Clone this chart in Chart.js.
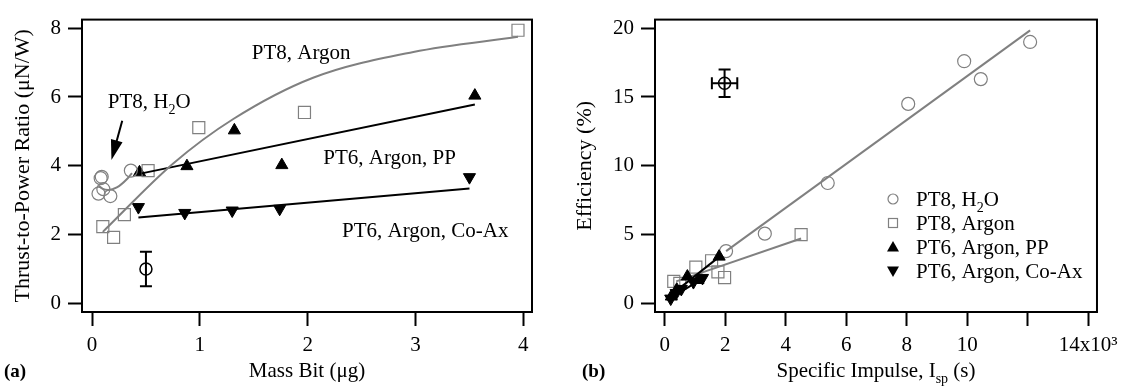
<!DOCTYPE html>
<html>
<head>
<meta charset="utf-8">
<script src="https://cdn.jsdelivr.net/npm/chart.js@4/dist/chart.umd.min.js"></script>
<style>
html, body { margin: 0; padding: 0; background: #fff; }
#wrap { position: relative; width: 1125px; height: 387px; }
canvas { position: absolute; top: 0; }
</style>
</head>
<body>
<div id="wrap">
  <canvas id="chart-a" width="562" height="387" style="left:0;width:562px;height:387px"></canvas>
  <canvas id="chart-b" width="563" height="387" style="left:562px;width:563px;height:387px"></canvas>
</div>
<script>
// ---- panel (a): mass bit (ug) vs thrust-to-power ratio (uN/W)
var h2oMass = [0.06, 0.08, 0.09, 0.105, 0.17, 0.36];
var h2oTP = [3.19, 3.64, 3.68, 3.32, 3.12, 3.86];
var h2oFitMass = [0.06, 0.1, 0.15, 0.23, 0.32, 0.37];
var h2oFitTP = [3.43, 3.33, 3.3, 3.37, 3.6, 3.79];

var argonMass = [0.10, 0.20, 0.30, 0.52, 0.99, 1.97, 3.95];
var argonTP = [2.23, 1.92, 2.58, 3.86, 5.11, 5.55, 7.94];
var argonFitMass = [0.10, 0.75, 1.31, 2.05, 2.98, 3.95];
var argonFitTP = [2.08, 4.06, 5.36, 6.56, 7.31, 7.75];

var ppMass = [0.44, 0.88, 1.32, 1.76, 3.55];
var ppTP = [3.81, 3.99, 5.03, 4.02, 6.04];
var ppFitMass = [0.46, 3.55];
var ppFitTP = [3.78, 5.78];

var coaxMass = [0.43, 0.86, 1.30, 1.74, 3.50];
var coaxTP = [2.80, 2.63, 2.70, 2.75, 3.67];
var coaxFitMass = [0.43, 3.50];
var coaxFitTP = [2.50, 3.34];

var errMassA = [0.5];
var errTPA = [1.0];
var errTPBarA = [0.5];

var massTicks = [0, 1, 2, 3, 4];
var tpTicks = [0, 2, 4, 6, 8];

// ---- panel (b): specific impulse (x10^3 s) vs efficiency (%)
var h2oIsp = [2.03, 3.31, 5.39, 8.05, 9.9, 10.45, 12.08];
var h2oEff = [3.8, 5.07, 8.75, 14.5, 17.6, 16.3, 19.0];
var h2oFitIsp = [2.03, 12.08];
var h2oFitEff = [3.8, 19.84];

var argonIsp = [0.3, 0.5, 1.03, 1.55, 1.76, 1.98, 4.51];
var argonEff = [1.6, 1.45, 2.64, 3.1, 2.29, 1.88, 5.0];
var argonFitIsp = [0.38, 4.51];
var argonFitEff = [1.6, 4.72];

var ppIsp = [0.22, 0.4, 0.75, 1.1, 1.8];
var ppEff = [0.5, 1.0, 1.95, 1.7, 3.4];
var ppFitIsp = [0.11, 1.81];
var ppFitEff = [0.44, 3.4];

var coaxIsp = [0.2, 0.38, 0.55, 0.95, 1.25];
var coaxEff = [0.35, 0.75, 1.05, 1.55, 1.85];
var coaxFitIsp = [0.2, 1.25];
var coaxFitEff = [0.4, 1.8];

var errIspB = [1.98];
var errEffB = [16.0];
var errIspBarB = [0.42];
var errEffBarB = [1.0];

var ispTicks = [0, 2, 4, 6, 8, 10, 12, 14];
var ispTickLabels = ['0', '2', '4', '6', '8', '10', '', '14x10\u00b3'];
var effTicks = [0, 5, 10, 15, 20];

var GRAY = '#808080';
var serif = "'Liberation Serif', serif";
Chart.defaults.font.family = serif;
Chart.defaults.color = '#000';

function pts(xs, ys) {
    return xs.map(function (x, i) { return { x: x, y: ys[i] }; });
}

function fit(xs, ys, color, curved) {
    return {
        data: pts(xs, ys), showLine: true, borderColor: color, borderWidth: 2,
        pointRadius: 0, fill: false,
        tension: curved ? 0.4 : 0,
        cubicInterpolationMode: curved ? 'monotone' : 'default'
    };
}

var markers = {
    h2o: { pointStyle: 'circle', pointRadius: 6.5, borderColor: GRAY, backgroundColor: 'rgba(0,0,0,0)', pointBorderWidth: 1.2 },
    argon: { pointStyle: 'rect', pointRadius: 8.5, borderColor: GRAY, backgroundColor: 'rgba(255,255,255,0)', pointBorderWidth: 1.2 },
    pp: { pointStyle: 'triangle', pointRadius: 7, borderColor: '#000', backgroundColor: '#000', pointBorderWidth: 1 },
    coax: { pointStyle: 'triangle', pointRotation: 180, pointRadius: 7, borderColor: '#000', backgroundColor: '#000', pointBorderWidth: 1 }
};

function scatterSet(xs, ys, m) {
    return Object.assign({ data: pts(xs, ys), showLine: false }, m);
}

// text with subscripts: parts = [[text, shift]], shift 1 = sub
function rich(ctx, parts, x, y, align, size) {
    var total = 0;
    parts.forEach(function (p) {
        ctx.font = Math.round(p[1] ? size * 0.68 : size) + 'px ' + serif;
        total += ctx.measureText(p[0]).width;
    });
    var cx = align === 'center' ? x - total / 2 : (align === 'right' ? x - total : x);
    ctx.textAlign = 'left';
    ctx.textBaseline = 'alphabetic';
    parts.forEach(function (p) {
        ctx.font = Math.round(p[1] ? size * 0.68 : size) + 'px ' + serif;
        ctx.fillText(p[0], cx, y + p[1] * size * 0.28);
        cx += ctx.measureText(p[0]).width;
    });
}

function scaleOpts(ticks, min, max, fixed, labels) {
    return {
        type: 'linear', min: min, max: max,
        border: { display: false },
        grid: { drawOnChartArea: false, drawTicks: true, tickLength: 14, tickWidth: 2, tickColor: '#000' },
        ticks: {
            padding: 7, color: '#000', font: { size: 21, family: serif }, maxRotation: 0, autoSkip: false,
            callback: function (v, i) { return labels ? labels[i] : String(v); }
        },
        afterBuildTicks: function (s) { s.ticks = ticks.map(function (v) { return { value: v }; }); },
        afterFit: function (s) {
            if (s.isHorizontal()) s.height = fixed; else s.width = fixed;
        }
    };
}

function makeDeco(p) {
    return {
        id: 'deco',
        afterDatasetsDraw: function (chart) {
            var ctx = chart.ctx, a = chart.chartArea, sx = chart.scales.x, sy = chart.scales.y;
            ctx.save();
            ctx.fillStyle = '#000';
            ctx.strokeStyle = '#000';
            ctx.lineWidth = 2;
            ctx.strokeRect(a.left, a.top, a.right - a.left, a.bottom - a.top);

            // error bars
            p.err.x.forEach(function (xv, i) {
                var px = sx.getPixelForValue(xv), py = sy.getPixelForValue(p.err.y[i]);
                ctx.lineWidth = 2;
                ctx.beginPath();
                var y1 = sy.getPixelForValue(p.err.y[i] + p.err.dy[i]);
                var y2 = sy.getPixelForValue(p.err.y[i] - p.err.dy[i]);
                ctx.moveTo(px, y1); ctx.lineTo(px, y2);
                ctx.moveTo(px - 6, y1); ctx.lineTo(px + 6, y1);
                ctx.moveTo(px - 6, y2); ctx.lineTo(px + 6, y2);
                if (p.err.dx) {
                    var x1 = sx.getPixelForValue(xv - p.err.dx[i]);
                    var x2 = sx.getPixelForValue(xv + p.err.dx[i]);
                    ctx.moveTo(x1, py); ctx.lineTo(x2, py);
                    ctx.moveTo(x1, py - 6); ctx.lineTo(x1, py + 6);
                    ctx.moveTo(x2, py - 6); ctx.lineTo(x2, py + 6);
                }
                ctx.stroke();
                ctx.lineWidth = 1.5;
                ctx.beginPath();
                ctx.arc(px, py, 6, 0, Math.PI * 2);
                ctx.stroke();
            });

            // annotations
            (p.notes || []).forEach(function (n) {
                rich(ctx, n.parts, sx.getPixelForValue(n.x), sy.getPixelForValue(n.y), 'center', 21);
            });

            // arrow
            if (p.arrow) {
                var tx = sx.getPixelForValue(p.arrow[0]), ty = sy.getPixelForValue(p.arrow[1]);
                var hx = sx.getPixelForValue(p.arrow[2]), hy = sy.getPixelForValue(p.arrow[3]);
                var ang = Math.atan2(hy - ty, hx - tx);
                var c = Math.cos(ang), s = Math.sin(ang);
                ctx.lineWidth = 2;
                ctx.beginPath();
                ctx.moveTo(tx, ty);
                ctx.lineTo(hx - c * 14, hy - s * 14);
                ctx.stroke();
                ctx.beginPath();
                ctx.moveTo(hx, hy);
                ctx.lineTo(hx - c * 20 + s * 6, hy - s * 20 - c * 6);
                ctx.lineTo(hx - c * 20 - s * 6, hy - s * 20 + c * 6);
                ctx.closePath();
                ctx.fill();
            }

            // legend
            (p.legend || []).forEach(function (l, i) {
                var lx = p.legendAt[0], ly = p.legendAt[1] + i * 24;
                ctx.lineWidth = 1.2;
                ctx.strokeStyle = l.color;
                ctx.fillStyle = l.color;
                ctx.beginPath();
                if (l.shape === 'circle') { ctx.arc(lx, ly, 5, 0, Math.PI * 2); ctx.stroke(); }
                else if (l.shape === 'rect') { ctx.strokeRect(lx - 4.5, ly - 4.5, 9, 9); }
                else if (l.shape === 'up') { ctx.moveTo(lx, ly - 6); ctx.lineTo(lx + 6, ly + 4.5); ctx.lineTo(lx - 6, ly + 4.5); ctx.closePath(); ctx.fill(); }
                else { ctx.moveTo(lx, ly + 6); ctx.lineTo(lx + 6, ly - 4.5); ctx.lineTo(lx - 6, ly - 4.5); ctx.closePath(); ctx.fill(); }
                ctx.fillStyle = '#000';
                rich(ctx, l.parts, lx + 23, ly + 7, 'left', 21);
            });

            // axis titles
            ctx.fillStyle = '#000';
            rich(ctx, p.xTitle, (a.left + a.right) / 2, 377, 'center', 21);
            ctx.save();
            ctx.translate(p.yTitleX, (a.top + a.bottom) / 2);
            ctx.rotate(-Math.PI / 2);
            rich(ctx, p.yTitle, 0, 7, 'center', 22);
            ctx.restore();

            // panel letter
            ctx.font = 'bold 19px ' + serif;
            ctx.textAlign = 'left';
            ctx.textBaseline = 'alphabetic';
            ctx.fillText(p.letter[0], p.letter[1], 377);
            ctx.restore();
        }
    };
}

var h2oParts = [['PT8, H', 0], ['2', 1], ['O', 0]];

var chartA = new Chart(document.getElementById('chart-a').getContext('2d'), {
    type: 'scatter',
    data: {
        datasets: [
            fit(h2oFitMass, h2oFitTP, GRAY, true),
            fit(argonFitMass, argonFitTP, GRAY, true),
            fit(ppFitMass, ppFitTP, '#000', false),
            fit(coaxFitMass, coaxFitTP, '#000', false),
            scatterSet(h2oMass, h2oTP, markers.h2o),
            scatterSet(argonMass, argonTP, markers.argon),
            scatterSet(ppMass, ppTP, markers.pp),
            scatterSet(coaxMass, coaxTP, markers.coax)
        ]
    },
    options: {
        responsive: false, animation: false,
        layout: { padding: { left: 0, top: 6, right: 30, bottom: 0 } },
        plugins: { legend: { display: false }, tooltip: { enabled: false } },
        scales: {
            x: scaleOpts(massTicks, -0.093, 4.08, 75),
            y: scaleOpts(tpTicks, -0.25, 8.25, 82)
        }
    },
    plugins: [makeDeco({
        err: { x: errMassA, y: errTPA, dy: errTPBarA },
        notes: [
            { parts: [['PT8, Argon', 0]], x: 1.94, y: 7.11 },
            { parts: h2oParts, x: 0.53, y: 5.67 },
            { parts: [['PT6, Argon, PP', 0]], x: 2.76, y: 4.06 },
            { parts: [['PT6, Argon, Co-Ax', 0]], x: 3.09, y: 1.94 }
        ],
        arrow: [0.28, 5.31, 0.18, 4.17],
        xTitle: [['Mass Bit (\u03bcg)', 0]],
        yTitle: [['Thrust-to-Power Ratio (\u03bcN/W)', 0]],
        yTitleX: 22,
        letter: ['(a)', 4]
    })]
});

var chartB = new Chart(document.getElementById('chart-b').getContext('2d'), {
    type: 'scatter',
    data: {
        datasets: [
            fit(coaxFitIsp, coaxFitEff, '#000', false),
            fit(ppFitIsp, ppFitEff, '#000', false),
            scatterSet(ppIsp, ppEff, markers.pp),
            scatterSet(coaxIsp, coaxEff, markers.coax),
            fit(h2oFitIsp, h2oFitEff, GRAY, false),
            fit(argonFitIsp, argonFitEff, GRAY, false),
            scatterSet(h2oIsp, h2oEff, markers.h2o),
            scatterSet(argonIsp, argonEff, markers.argon)
        ]
    },
    options: {
        responsive: false, animation: false,
        layout: { padding: { left: 0, top: 6, right: 20, bottom: 0 } },
        plugins: { legend: { display: false }, tooltip: { enabled: false } },
        scales: {
            x: scaleOpts(ispTicks, -0.32, 14.29, 75, ispTickLabels),
            y: scaleOpts(effTicks, -0.625, 20.625, 93)
        }
    },
    plugins: [makeDeco({
        err: { x: errIspB, y: errEffB, dy: errEffBarB, dx: errIspBarB },
        legend: [
            { shape: 'circle', color: GRAY, parts: h2oParts },
            { shape: 'rect', color: GRAY, parts: [['PT8, Argon', 0]] },
            { shape: 'up', color: '#000', parts: [['PT6, Argon, PP', 0]] },
            { shape: 'down', color: '#000', parts: [['PT6, Argon, Co-Ax', 0]] }
        ],
        legendAt: [331, 199],
        xTitle: [['Specific Impulse, I', 0], ['sp', 1], [' (s)', 0]],
        yTitle: [['Efficiency (%)', 0]],
        yTitleX: 22,
        letter: ['(b)', 20]
    })]
});
</script>
</body>
</html>
